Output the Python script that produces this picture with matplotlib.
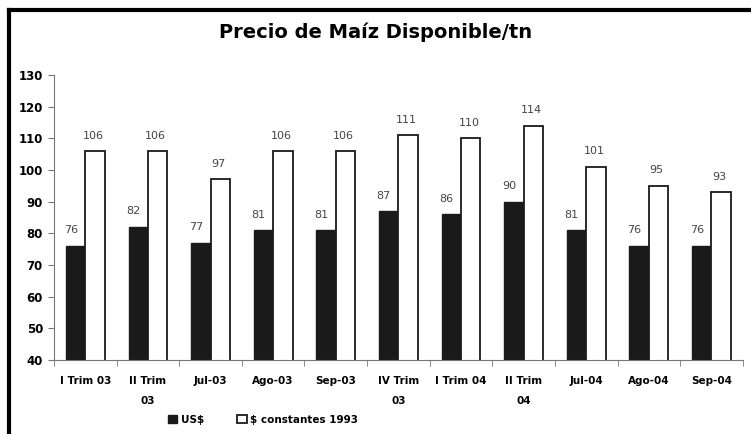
import matplotlib.pyplot as plt
import numpy as np
from matplotlib.lines import Line2D
from matplotlib.patches import Patch

# datos
categorias = ['I Trim 03', 'II Trim\n03', 'Jul-03', 'Ago-03', 'Sep-03', 'IV Trim\n03',
              'I Trim 04', 'II Trim\n04', 'Jul-04', 'Ago-04', 'Sep-04']
us_dolares = [76, 82, 77, 81, 81, 87, 86, 90, 81, 76, 76]
constantes_1993 = [106, 106, 97, 106, 106, 111, 110, 114, 101, 95, 93]
y_ticks = [40, 50, 60, 70, 80, 90, 100, 110, 120, 130]

fig = plt.figure(figsize=(7.51, 4.34), dpi=100)
ax = fig.add_axes([0.072, 0.171, 0.917, 0.656])

x = np.arange(len(categorias))
w = 0.31
ax.bar(x - w / 2, us_dolares, w, color='#1a1a1a', edgecolor='#1a1a1a',
       linewidth=1, label='US$')
ax.bar(x + w / 2, constantes_1993, w, color='white', edgecolor='#1a1a1a',
       linewidth=1.3, label='$ constantes 1993')

# etiquetas de valores
for xi, v in zip(x - w / 2, us_dolares):
    ax.text(xi - 0.08, v + 3.3, str(v), ha='center', va='bottom', fontsize=8, color='#444444')
for xi, v in zip(x + w / 2, constantes_1993):
    ax.text(xi - 0.03, v + 3.3, str(v), ha='center', va='bottom', fontsize=8, color='#444444')

ax.set_ylim(40, 130)
ax.set_xlim(-0.5, len(categorias) - 0.5)
ax.set_yticks(y_ticks)
ax.set_yticklabels([str(t) for t in y_ticks], fontsize=8.5, fontweight='heavy')
ax.set_xticks(x)
ax.set_xticklabels(categorias, fontsize=7.5, fontweight='heavy', linespacing=2.2)
ax.set_xticks(np.arange(len(categorias) + 1) - 0.5, minor=True)
ax.tick_params(axis='x', which='major', length=0, pad=12)
ax.tick_params(axis='x', which='minor', length=4, color='#777777')
ax.tick_params(axis='y', length=4, color='#777777', pad=4)

for s in ['top', 'right']:
    ax.spines[s].set_visible(False)
ax.spines['left'].set_color('#777777')
ax.spines['bottom'].set_color('#777777')

# titulo
fig.text(0.5, 0.925, 'Precio de Maíz Disponible/tn', ha='center', va='center',
         fontsize=14, fontweight='heavy', family='DejaVu Sans')

# leyenda
handles = [Patch(facecolor='#1a1a1a', edgecolor='#1a1a1a', label='US$'),
           Patch(facecolor='white', edgecolor='#1a1a1a', linewidth=1.3, label='$ constantes 1993')]
leg = fig.legend(handles=handles, loc='center', bbox_to_anchor=(0.35, 0.033), ncol=2,
                 frameon=False, fontsize=7.5, handlelength=0.9, handleheight=0.9,
                 handletextpad=0.3, columnspacing=3.2)
for t in leg.get_texts():
    t.set_fontweight('bold')

# marco del grafico
fig.add_artist(Line2D([0.012, 0.012], [0.0, 0.977], transform=fig.transFigure, color='black', lw=3))
fig.add_artist(Line2D([0.012, 1.0], [0.977, 0.977], transform=fig.transFigure, color='black', lw=3))

fig.savefig('out.png', dpi=100)
